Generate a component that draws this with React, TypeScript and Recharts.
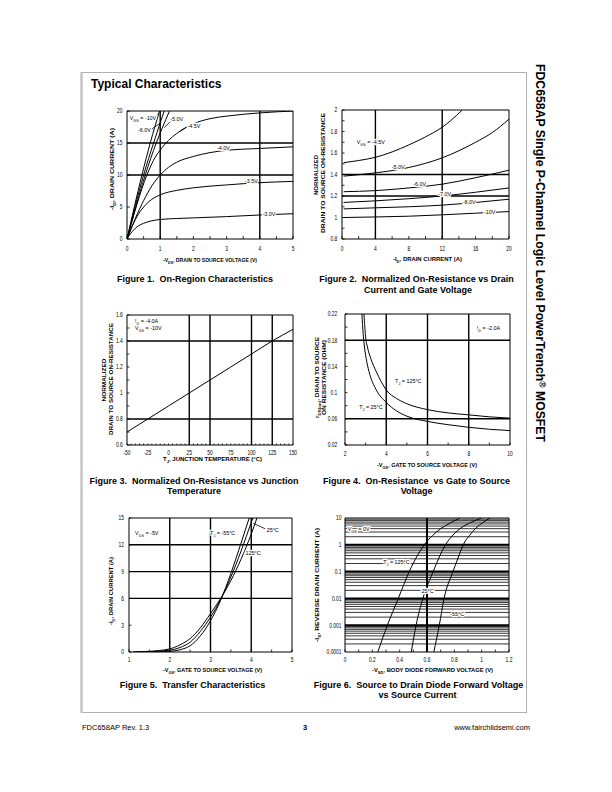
import React from 'react';
import { LineChart, Line, XAxis, YAxis, ReferenceLine, ReferenceDot } from 'recharts';

const FONT = '"Liberation Sans", Arial, Helvetica, sans-serif';

type Pt = { x: number; y: number };
type Note = { t: string; x: number; y: number; anchor?: string };

// ---------------- Figure 1: On-Region Characteristics ----------------
const f1XTicks = [0, 0.5, 1, 1.5, 2, 2.5, 3, 3.5, 4, 4.5, 5];
const f1XLabels = [0, 1, 2, 3, 4, 5];
const f1YTicks = [0, 5, 10, 15, 20];
const f1YLabels = [0, 5, 10, 15, 20];
const f1GridX = [1, 4];
const f1GridY = [10, 15];
const f1Vgs10: Pt[] = [{ x: 0, y: 0 }, { x: 0.45, y: 10 }, { x: 0.7, y: 15 }, { x: 0.98, y: 20 }];
const f1Vgs6: Pt[] = [{ x: 0, y: 0 }, { x: 0.5, y: 10 }, { x: 0.8, y: 15 }, { x: 1.12, y: 20 }];
const f1Vgs5: Pt[] = [{ x: 0, y: 0 }, { x: 0.55, y: 10 }, { x: 0.88, y: 15 }, { x: 1.05, y: 17.2 }, { x: 1.28, y: 20 }];
const f1Vgs45: Pt[] = [
  { x: 0, y: 0 }, { x: 0.6, y: 10 }, { x: 0.8, y: 12.3 }, { x: 1, y: 13.9 }, { x: 1.25, y: 15.4 },
  { x: 1.5, y: 16.5 }, { x: 2, y: 18.0 }, { x: 2.5, y: 18.8 }, { x: 3, y: 19.2 }, { x: 4, y: 19.7 }, { x: 5, y: 20 },
];
const f1Vgs4: Pt[] = [
  { x: 0, y: 0 }, { x: 0.25, y: 3.2 }, { x: 0.5, y: 6.0 }, { x: 0.75, y: 8.3 }, { x: 1, y: 10.0 }, { x: 1.25, y: 11.2 },
  { x: 1.5, y: 12.0 }, { x: 2, y: 12.9 }, { x: 2.5, y: 13.5 }, { x: 3, y: 13.85 }, { x: 4, y: 14.15 }, { x: 5, y: 14.4 },
];
const f1Vgs35: Pt[] = [
  { x: 0, y: 0 }, { x: 0.1, y: 1.3 }, { x: 0.2, y: 2.5 }, { x: 0.3, y: 3.5 }, { x: 0.5, y: 5.0 }, { x: 0.75, y: 6.2 },
  { x: 1, y: 6.9 }, { x: 1.5, y: 7.6 }, { x: 2, y: 8.0 }, { x: 3, y: 8.45 }, { x: 4, y: 8.8 }, { x: 5, y: 9.0 },
];
const f1Vgs3: Pt[] = [
  { x: 0, y: 0 }, { x: 0.1, y: 0.8 }, { x: 0.2, y: 1.4 }, { x: 0.3, y: 1.9 }, { x: 0.5, y: 2.45 }, { x: 0.75, y: 2.85 },
  { x: 1, y: 3.05 }, { x: 1.5, y: 3.2 }, { x: 2, y: 3.3 }, { x: 3, y: 3.5 }, { x: 4, y: 3.75 }, { x: 5, y: 3.95 },
];
const f1Notes: Note[] = [
  { t: 'V_{GS} = -10V', x: 0.08, y: 18.9 },
  { t: '-6.0V', x: 0.33, y: 17.1 },
  { t: '-5.0V', x: 1.3, y: 18.7 },
  { t: '-4.5V', x: 1.82, y: 17.7 },
  { t: '-4.0V', x: 2.71, y: 14.2 },
  { t: '-3.5V', x: 3.55, y: 9.06 },
  { t: '-3.0V', x: 4.08, y: 4.0 },
];
const f1Leaders: [Pt, Pt][] = [
  [{ x: 0.68, y: 18.9 }, { x: 0.93, y: 19.4 }],
  [{ x: 0.75, y: 17.2 }, { x: 1.03, y: 18.2 }],
  [{ x: 1.3, y: 18.3 }, { x: 1.12, y: 17.4 }],
  [{ x: 1.8, y: 17.5 }, { x: 1.6, y: 16.8 }],
];

// ---------------- Figure 2: Normalized On-Resistance vs Drain Current ----------------
const f2XTicks = [0, 2, 4, 6, 8, 10, 12, 14, 16, 18, 20];
const f2XLabels = [0, 4, 8, 12, 16, 20];
const f2YTicks = [0.8, 0.9, 1, 1.1, 1.2, 1.3, 1.4, 1.5, 1.6, 1.7, 1.8, 1.9, 2];
const f2YLabels = [0.8, 1, 1.2, 1.4, 1.6, 1.8, 2];
const f2GridX = [4, 12];
const f2GridY = [1.2, 1.4];
const f2Vgs45: Pt[] = [
  { x: 0.2, y: 1.51 }, { x: 2, y: 1.53 }, { x: 4, y: 1.56 }, { x: 6, y: 1.61 }, { x: 8, y: 1.675 },
  { x: 10, y: 1.75 }, { x: 12, y: 1.84 }, { x: 13, y: 1.9 }, { x: 14.4, y: 2.0 },
];
const f2Vgs5: Pt[] = [
  { x: 0.2, y: 1.385 }, { x: 4, y: 1.415 }, { x: 8, y: 1.465 }, { x: 12, y: 1.555 }, { x: 16, y: 1.7 },
  { x: 18, y: 1.79 }, { x: 20, y: 1.915 },
];
const f2Vgs6: Pt[] = [
  { x: 0.2, y: 1.24 }, { x: 4, y: 1.25 }, { x: 8, y: 1.275 }, { x: 12, y: 1.31 }, { x: 16, y: 1.37 }, { x: 20, y: 1.44 },
];
const f2Vgs7: Pt[] = [
  { x: 0.2, y: 1.14 }, { x: 4, y: 1.155 }, { x: 8, y: 1.175 }, { x: 12, y: 1.2 }, { x: 16, y: 1.235 }, { x: 20, y: 1.275 },
];
const f2Vgs8: Pt[] = [
  { x: 0.2, y: 1.08 }, { x: 4, y: 1.09 }, { x: 8, y: 1.1 }, { x: 12, y: 1.115 }, { x: 16, y: 1.14 }, { x: 20, y: 1.17 },
];
const f2Vgs10: Pt[] = [
  { x: 0.2, y: 1.0 }, { x: 4, y: 1.005 }, { x: 8, y: 1.012 }, { x: 12, y: 1.025 }, { x: 16, y: 1.04 }, { x: 20, y: 1.055 },
];
const f2Notes: Note[] = [
  { t: 'V_{GS} = -4.5V', x: 1.76, y: 1.705 },
  { t: '-5.0V', x: 5.95, y: 1.467 },
  { t: '-6.0V', x: 8.54, y: 1.309 },
  { t: '-7.0V', x: 11.53, y: 1.219 },
  { t: '-8.0V', x: 14.45, y: 1.141 },
  { t: '-10V', x: 17.0, y: 1.048 },
];

// ---------------- Figure 3: Normalized On-Resistance vs Junction Temperature ----------------
const f3XTicks = Array.from({ length: 41 }, (_, i) => -50 + i * 5);
const f3XLabels = [-50, -25, 0, 25, 50, 75, 100, 125, 150];
const f3YTicks = [0.6, 0.7, 0.8, 0.9, 1, 1.1, 1.2, 1.3, 1.4, 1.5, 1.6];
const f3YLabels = [0.6, 0.8, 1, 1.2, 1.4, 1.6];
const f3GridX = [25, 50, 100, 125];
const f3GridY = [0.8, 1.4];
const f3Rds: Pt[] = [
  { x: -50, y: 0.70 }, { x: -25, y: 0.80 }, { x: 0, y: 0.90 }, { x: 25, y: 1.0 }, { x: 50, y: 1.10 },
  { x: 75, y: 1.20 }, { x: 100, y: 1.30 }, { x: 125, y: 1.40 }, { x: 150, y: 1.49 },
];
const f3Notes: Note[] = [
  { t: 'I_{D} = -4.0A', x: -40.4, y: 1.554 },
  { t: 'V_{GS} = -10V', x: -40.4, y: 1.498 },
];

// ---------------- Figure 4: On-Resistance vs Gate to Source Voltage ----------------
const f4XTicks = [2, 3, 4, 5, 6, 7, 8, 9, 10];
const f4XLabels = [2, 4, 6, 8, 10];
const f4YTicks = [0.02, 0.04, 0.06, 0.08, 0.1, 0.12, 0.14, 0.16, 0.18, 0.2, 0.22];
const f4YLabels = [0.02, 0.06, 0.1, 0.14, 0.18, 0.22];
const f4GridX = [4, 6, 8];
const f4GridY = [0.06, 0.18];
const f4Tj125: Pt[] = [
  { x: 2.92, y: 0.22 }, { x: 3.0, y: 0.185 }, { x: 3.1, y: 0.168 }, { x: 3.25, y: 0.152 }, { x: 3.5, y: 0.133 },
  { x: 3.75, y: 0.117 }, { x: 4, y: 0.104 }, { x: 4.5, y: 0.091 }, { x: 5, y: 0.083 }, { x: 6, y: 0.074 },
  { x: 7, y: 0.069 }, { x: 8, y: 0.066 }, { x: 9, y: 0.063 }, { x: 10, y: 0.061 },
];
const f4Tj25: Pt[] = [
  { x: 2.82, y: 0.22 }, { x: 2.88, y: 0.19 }, { x: 2.95, y: 0.168 }, { x: 3.05, y: 0.148 }, { x: 3.2, y: 0.128 },
  { x: 3.5, y: 0.105 }, { x: 4, y: 0.085 }, { x: 4.5, y: 0.072 }, { x: 5, y: 0.064 }, { x: 6, y: 0.056 },
  { x: 7, y: 0.051 }, { x: 8, y: 0.047 }, { x: 9, y: 0.044 }, { x: 10, y: 0.042 },
];
const f4Notes: Note[] = [
  { t: 'I_{D} = -2.0A', x: 8.39, y: 0.199 },
  { t: 'T_{J} = 125°C', x: 4.43, y: 0.118 },
  { t: 'T_{J} = 25°C', x: 2.69, y: 0.078 },
];

// ---------------- Figure 5: Transfer Characteristics ----------------
const f5XTicks = [1, 1.5, 2, 2.5, 3, 3.5, 4, 4.5, 5];
const f5XLabels = [1, 2, 3, 4, 5];
const f5YTicks = [0, 3, 6, 9, 12, 15];
const f5YLabels = [0, 3, 6, 9, 12, 15];
const f5GridX = [2, 3, 4];
const f5GridY = [6, 9, 12];
const f5Tj125: Pt[] = [
  { x: 1.1, y: 0.02 }, { x: 1.5, y: 0.08 }, { x: 2, y: 0.35 }, { x: 2.25, y: 0.8 }, { x: 2.5, y: 1.5 },
  { x: 2.75, y: 2.7 }, { x: 3, y: 4.3 }, { x: 3.25, y: 6.0 }, { x: 3.5, y: 8.0 }, { x: 3.75, y: 10.4 },
  { x: 4, y: 13.2 }, { x: 4.14, y: 15 },
];
const f5Tj25: Pt[] = [
  { x: 1.2, y: 0.01 }, { x: 1.5, y: 0.04 }, { x: 2, y: 0.2 }, { x: 2.25, y: 0.5 }, { x: 2.5, y: 1.1 },
  { x: 2.75, y: 2.3 }, { x: 3, y: 3.9 }, { x: 3.25, y: 5.9 }, { x: 3.5, y: 8.4 }, { x: 3.75, y: 11.3 },
  { x: 4, y: 14.5 }, { x: 4.04, y: 15 },
];
const f5TjM55: Pt[] = [
  { x: 1.3, y: 0.01 }, { x: 1.5, y: 0.02 }, { x: 2, y: 0.08 }, { x: 2.25, y: 0.25 }, { x: 2.5, y: 0.7 },
  { x: 2.75, y: 1.8 }, { x: 3, y: 3.5 }, { x: 3.25, y: 5.8 }, { x: 3.5, y: 8.8 }, { x: 3.75, y: 12.2 },
  { x: 3.95, y: 15 },
];
const f5Notes: Note[] = [
  { t: 'V_{DS} = -5V', x: 1.15, y: 13.29 },
  { t: 'T_{J} = -55°C', x: 2.99, y: 13.29 },
  { t: '25°C', x: 4.38, y: 13.66 },
  { t: '125°C', x: 3.86, y: 11.05 },
];
const f5Leaders: [Pt, Pt][] = [[{ x: 4.05, y: 14.4 }, { x: 4.34, y: 13.8 }]];

// ---------------- Figure 6: Source to Drain Diode Forward Voltage ----------------
const f6XTicks = [0, 0.1, 0.2, 0.3, 0.4, 0.5, 0.6, 0.7, 0.8, 0.9, 1, 1.1, 1.2];
const f6XLabels = [0, 0.2, 0.4, 0.6, 0.8, 1, 1.2];
const f6YTicks = [0.0001, 0.001, 0.01, 0.1, 1, 10];
const f6YLabels = [0.0001, 0.001, 0.01, 0.1, 1, 10];
const f6GridX = [0.6];
const f6GridY = [0.001, 0.01, 0.1, 1];
const f6GridYMinor = [0.0001, 0.001, 0.01, 0.1, 1].flatMap((d) =>
  [2, 3, 4, 5, 6, 7, 8, 9].map((m) => Number((m * d).toPrecision(3)))
);
const f6Tj125: Pt[] = [
  { x: 0.24, y: 0.0001 }, { x: 0.31, y: 0.001 }, { x: 0.39, y: 0.01 }, { x: 0.47, y: 0.1 }, { x: 0.53, y: 0.4 },
  { x: 0.58, y: 1 }, { x: 0.64, y: 2.2 }, { x: 0.7, y: 4 }, { x: 0.77, y: 6.5 }, { x: 0.84, y: 10 },
];
const f6Tj25: Pt[] = [
  { x: 0.485, y: 0.0001 }, { x: 0.52, y: 0.001 }, { x: 0.57, y: 0.01 }, { x: 0.645, y: 0.1 }, { x: 0.69, y: 0.35 },
  { x: 0.735, y: 1 }, { x: 0.79, y: 2.3 }, { x: 0.85, y: 4.3 }, { x: 0.92, y: 6.8 }, { x: 1.0, y: 10 },
];
const f6TjM55: Pt[] = [
  { x: 0.65, y: 0.0001 }, { x: 0.69, y: 0.001 }, { x: 0.725, y: 0.01 }, { x: 0.79, y: 0.1 }, { x: 0.83, y: 0.35 },
  { x: 0.865, y: 1 }, { x: 0.91, y: 2.2 }, { x: 0.96, y: 4.3 }, { x: 1.01, y: 6.8 }, { x: 1.06, y: 10 },
];
const f6Notes: Note[] = [
  { t: 'V_{GS} = 0V', x: 0.02, y: 3.9 },
  { t: 'T_{J} = 125°C', x: 0.28, y: 0.222 },
  { t: '25°C', x: 0.56, y: 0.0189 },
  { t: '-55°C', x: 0.77, y: 0.00257 },
];

// ---------------- helpers ----------------
type RichProps = {
  x: number; y: number; text: string; size: number; anchor?: string; weight?: string | number;
  halo?: boolean; length?: number; rotate?: number; sx?: number;
};

function Rich({ x, y, text, size, anchor = 'start', weight = 'normal', halo = false, length, rotate, sx = 1 }: RichProps) {
  const segs: { t: string; k: number }[] = [];
  const re = /(_|\^)\{([^}]*)\}/g;
  let last = 0;
  let m: RegExpExecArray | null;
  while ((m = re.exec(text))) {
    if (m.index > last) segs.push({ t: text.slice(last, m.index), k: 0 });
    segs.push({ t: m[2], k: m[1] === '_' ? 1 : -1 });
    last = re.lastIndex;
  }
  if (last < text.length) segs.push({ t: text.slice(last), k: 0 });
  let cur = 0;
  const kids = segs.map((sg, i) => {
    const target = sg.k * size * 0.3;
    const dy = target - cur;
    cur = target;
    return (
      <tspan key={i} dy={dy !== 0 ? dy : undefined} fontSize={sg.k !== 0 ? size * 0.7 : undefined}>
        {sg.t}
      </tspan>
    );
  });
  let tf = `translate(${x} ${y})`;
  if (rotate) tf += ` rotate(${rotate})`;
  if (sx !== 1) tf += ` scale(${sx} 1)`;
  const st: any = { whiteSpace: 'pre' };
  if (halo) st.paintOrder = 'stroke';
  return (
    <g transform={tf}>
      <text
        x={0}
        y={size * 0.35}
        fontSize={size}
        fontFamily={FONT}
        fontWeight={weight}
        textAnchor={anchor as any}
        fill="#000"
        textLength={length}
        lengthAdjust={length ? 'spacingAndGlyphs' : undefined}
        stroke={halo ? '#fff' : undefined}
        strokeWidth={halo ? 2.6 : undefined}
        strokeLinejoin="round"
        xmlSpace="preserve"
        style={st}
      >
        {kids}
      </text>
    </g>
  );
}

type Spec = {
  id: string;
  box: { x0: number; y0: number; x1: number; y1: number };
  xDomain: [number, number];
  yDomain: [number, number];
  yLog?: boolean;
  xTicks: number[]; xLabels: number[]; yTicks: number[]; yLabels: number[];
  xTickLen: number; yTickLen: number;
  xLabOff: number; yLabGap: number;
  gridX: number[]; gridY: number[]; gridYMinor?: number[]; gridW: number;
  series: Pt[][];
  notes: Note[];
  leaders?: [Pt, Pt][];
};

const has = (arr: number[], v: number) => arr.some((a) => Math.abs(a - v) < 1e-9);
const TICK_SIZE = 6.8;
const TICK_SX = 0.72;
const NOTE_SIZE = 6;

function Plot({ s }: { s: Spec }) {
  const ML = 45, MT = 8, MR = 8, XH = 24;
  const w = s.box.x1 - s.box.x0;
  const h = s.box.y1 - s.box.y0;
  const xTick = (p: any) => {
    const v = p.payload.value;
    return (
      <g>
        <line x1={p.x} x2={p.x} y1={p.y} y2={p.y - s.xTickLen} stroke="#000" strokeWidth={0.8} />
        {has(s.xLabels, v) && (
          <Rich x={p.x} y={p.y + s.xLabOff} text={String(v)} size={TICK_SIZE} anchor="middle" sx={TICK_SX} />
        )}
      </g>
    );
  };
  const yTick = (p: any) => {
    const v = p.payload.value;
    return (
      <g>
        <line x1={p.x} x2={p.x + s.yTickLen} y1={p.y} y2={p.y} stroke="#000" strokeWidth={0.8} />
        {has(s.yLabels, v) && (
          <Rich x={p.x - s.yLabGap} y={p.y} text={String(v)} size={TICK_SIZE} anchor="end" sx={TICK_SX} />
        )}
      </g>
    );
  };
  return (
    <div style={{ position: 'absolute', left: s.box.x0 - ML, top: s.box.y0 - MT }}>
      <LineChart width={w + ML + MR} height={h + MT + XH} margin={{ top: MT, right: MR, left: 0, bottom: 0 }}>
        <XAxis
          type="number"
          dataKey="x"
          domain={s.xDomain}
          allowDataOverflow
          ticks={s.xTicks}
          interval={0}
          tickSize={0}
          tickMargin={0}
          height={XH}
          tickLine={false}
          axisLine={{ stroke: '#000', strokeWidth: 1 }}
          tick={xTick}
        />
        <YAxis
          type="number"
          domain={s.yDomain}
          scale={s.yLog ? 'log' : 'auto'}
          allowDataOverflow
          ticks={s.yTicks}
          interval={0}
          tickSize={0}
          tickMargin={0}
          width={ML}
          tickLine={false}
          axisLine={{ stroke: '#000', strokeWidth: 1 }}
          tick={yTick}
        />
        {(s.gridYMinor || []).map((v) => (
          <ReferenceLine key={`gm${v}`} y={v} stroke="#000" strokeWidth={0.8} />
        ))}
        {s.gridX.map((v) => (
          <ReferenceLine key={`gx${v}`} x={v} stroke="#000" strokeWidth={s.gridW} />
        ))}
        {s.gridY.map((v) => (
          <ReferenceLine key={`gy${v}`} y={v} stroke="#000" strokeWidth={s.gridW} />
        ))}
        <ReferenceLine x={s.xDomain[1]} stroke="#000" strokeWidth={1} />
        <ReferenceLine y={s.yDomain[1]} stroke="#000" strokeWidth={1} />
        {s.series.map((d, i) => (
          <Line
            key={`${s.id}-s${i}`}
            data={d}
            dataKey="y"
            type="monotone"
            stroke="#000"
            strokeWidth={1}
            dot={false}
            activeDot={false}
            isAnimationActive={false}
          />
        ))}
        {(s.leaders || []).map((seg, i) => (
          <ReferenceLine key={`ld${i}`} segment={seg} stroke="#000" strokeWidth={0.8} ifOverflow="visible" />
        ))}
        {s.notes.map((n, i) => (
          <ReferenceDot
            key={`nt${i}`}
            x={n.x}
            y={n.y}
            r={0}
            ifOverflow="visible"
            zIndex={2000}
            shape={(p: any) => (
              <Rich x={p.cx} y={p.cy} text={n.t} size={NOTE_SIZE} anchor={n.anchor || 'start'} halo sx={0.9} />
            )}
          />
        ))}
      </LineChart>
    </div>
  );
}

const specs: Spec[] = [
  {
    id: 'f1', box: { x0: 127, y0: 111, x1: 293, y1: 239 }, xDomain: [0, 5], yDomain: [0, 20],
    xTicks: f1XTicks, xLabels: f1XLabels, yTicks: f1YTicks, yLabels: f1YLabels, xTickLen: 3, yTickLen: 3,
    xLabOff: 10, yLabGap: 4.5, gridX: f1GridX, gridY: f1GridY, gridW: 1.4,
    series: [f1Vgs10, f1Vgs6, f1Vgs5, f1Vgs45, f1Vgs4, f1Vgs35, f1Vgs3], notes: f1Notes, leaders: f1Leaders,
  },
  {
    id: 'f2', box: { x0: 342, y0: 110, x1: 509, y1: 239 }, xDomain: [0, 20], yDomain: [0.8, 2],
    xTicks: f2XTicks, xLabels: f2XLabels, yTicks: f2YTicks, yLabels: f2YLabels, xTickLen: 3, yTickLen: 2.5,
    xLabOff: 10, yLabGap: 4.7, gridX: f2GridX, gridY: f2GridY, gridW: 1.4,
    series: [f2Vgs45, f2Vgs5, f2Vgs6, f2Vgs7, f2Vgs8, f2Vgs10], notes: f2Notes,
  },
  {
    id: 'f3', box: { x0: 127, y0: 315, x1: 293, y1: 445 }, xDomain: [-50, 150], yDomain: [0.6, 1.6],
    xTicks: f3XTicks, xLabels: f3XLabels, yTicks: f3YTicks, yLabels: f3YLabels, xTickLen: 1.5, yTickLen: 2.5,
    xLabOff: 7.7, yLabGap: 4.3, gridX: f3GridX, gridY: f3GridY, gridW: 1.4,
    series: [f3Rds], notes: f3Notes,
  },
  {
    id: 'f4', box: { x0: 345, y0: 314, x1: 510, y1: 445 }, xDomain: [2, 10], yDomain: [0.02, 0.22],
    xTicks: f4XTicks, xLabels: f4XLabels, yTicks: f4YTicks, yLabels: f4YLabels, xTickLen: 2.5, yTickLen: 2.5,
    xLabOff: 9, yLabGap: 7.7, gridX: f4GridX, gridY: f4GridY, gridW: 1.4,
    series: [f4Tj125, f4Tj25], notes: f4Notes,
  },
  {
    id: 'f5', box: { x0: 129, y0: 518, x1: 292, y1: 652 }, xDomain: [1, 5], yDomain: [0, 15],
    xTicks: f5XTicks, xLabels: f5XLabels, yTicks: f5YTicks, yLabels: f5YLabels, xTickLen: 2.5, yTickLen: 2.5,
    xLabOff: 8, yLabGap: 5, gridX: f5GridX, gridY: f5GridY, gridW: 1.4,
    series: [f5Tj125, f5Tj25, f5TjM55], notes: f5Notes, leaders: f5Leaders,
  },
  {
    id: 'f6', box: { x0: 345, y0: 518, x1: 509, y1: 652 }, xDomain: [0, 1.2], yDomain: [0.0001, 10], yLog: true,
    xTicks: f6XTicks, xLabels: f6XLabels, yTicks: f6YTicks, yLabels: f6YLabels, xTickLen: 2.5, yTickLen: 0,
    xLabOff: 8, yLabGap: 3.5, gridX: f6GridX, gridY: f6GridY, gridYMinor: f6GridYMinor, gridW: 2,
    series: [f6Tj125, f6Tj25, f6TjM55], notes: f6Notes,
  },
];

// Axis titles: [text, cx, cy, length, rotate]
const axisTitles: [string, number, number, number, number][] = [
  ['-V_{DS}, DRAIN TO SOURCE VOLTAGE (V)', 210, 260, 94, 0],
  ['-I_{D}, DRAIN CURRENT (A)', 111.7, 169, 82, -90],
  ['-I_{D}, DRAIN CURRENT (A)', 427.5, 259.3, 69, 0],
  ['NORMALIZED', 316, 175, 40, -90],
  ['DRAIN TO SOURCE ON-RESISTANCE', 323.3, 173, 120, -90],
  ['T_{J}, JUNCTION TEMPERATURE (°C)', 212.5, 459, 99, 0],
  ['NORMALIZED', 104.3, 380, 43, -90],
  ['DRAIN TO SOURCE ON-RESISTANCE', 111, 379, 112, -90],
  ['-V_{GS}, GATE TO SOURCE VOLTAGE (V)', 427, 465, 100, 0],
  ['r_{DS(on)}, DRAIN TO SOURCE', 317.3, 377.5, 81, -90],
  ['ON RESISTANCE (OHM)', 324, 377.5, 75, -90],
  ['-V_{GS}, GATE TO SOURCE VOLTAGE (V)', 212.5, 670, 99, 0],
  ['-I_{D}, DRAIN CURRENT (A)', 110.7, 591, 68, -90],
  ['-V_{SD}, BODY DIODE FORWARD VOLTAGE (V)', 432.5, 670, 121, 0],
  ['-I_{S}, REVERSE DRAIN CURRENT (A)', 317.3, 585, 114, -90],
];

// Captions: [text, centre x, centre y]
const captions: [string, number, number][] = [
  ['Figure 1.  On-Region Characteristics', 195, 279],
  ['Figure 2.  Normalized On-Resistance vs Drain', 416.5, 279],
  ['Current and Gate Voltage', 418, 289.5],
  ['Figure 3.  Normalized On-Resistance vs Junction', 194, 481],
  ['Temperature', 194, 491],
  ['Figure 4.  On-Resistance  vs Gate to Source', 416.5, 481],
  ['Voltage', 416.7, 491],
  ['Figure 5.  Transfer Characteristics', 192.5, 685],
  ['Figure 6.  Source to Drain Diode Forward Voltage', 418.5, 685],
  ['vs Source Current', 417.5, 695],
];

const pageTitle = 'Typical Characteristics';
const sideTitle = 'FDC658AP Single P-Channel Logic Level PowerTrench^{®} MOSFET';
const footLeft = 'FDC658AP Rev. 1.3';
const footMid = '3';
const footRight = 'www.fairchildsemi.com';

export default function App() {
  return (
    <div style={{ position: 'absolute', left: 0, top: 0, width: 612, height: 792, background: '#fff', overflow: 'hidden' }}>
      <svg width={612} height={792} style={{ position: 'absolute', left: 0, top: 0 }}>
        <rect x={81.5} y={72.5} width={445} height={640} fill="none" stroke="#b0b0b0" strokeWidth={1} />
        <line x1={81.5} x2={81.5} y1={72} y2={713} stroke="#c4c4c4" strokeWidth={2.5} />
      </svg>
      {specs.map((s) => (
        <Plot key={s.id} s={s} />
      ))}
      <svg width={612} height={792} style={{ position: 'absolute', left: 0, top: 0, pointerEvents: 'none' }}>
        <Rich x={91} y={84} text={pageTitle} size={12} weight="bold" />
        {captions.map(([t, x, y], i) => (
          <Rich key={`c${i}`} x={x} y={y} text={t} size={9} weight="bold" anchor="middle" />
        ))}
        {axisTitles.map(([t, x, y, len, rot], i) => (
          <Rich key={`a${i}`} x={x} y={y} text={t} size={6} weight="bold" anchor="middle" length={len} rotate={rot} />
        ))}
        <Rich x={540} y={253} text={sideTitle} size={12} weight="bold" anchor="middle" rotate={90} length={378} />
        <Rich x={82} y={727} text={footLeft} size={7.5} />
        <Rich x={305} y={727} text={footMid} size={7.5} weight="bold" anchor="middle" />
        <Rich x={530} y={727} text={footRight} size={7.5} anchor="end" />
      </svg>
    </div>
  );
}
